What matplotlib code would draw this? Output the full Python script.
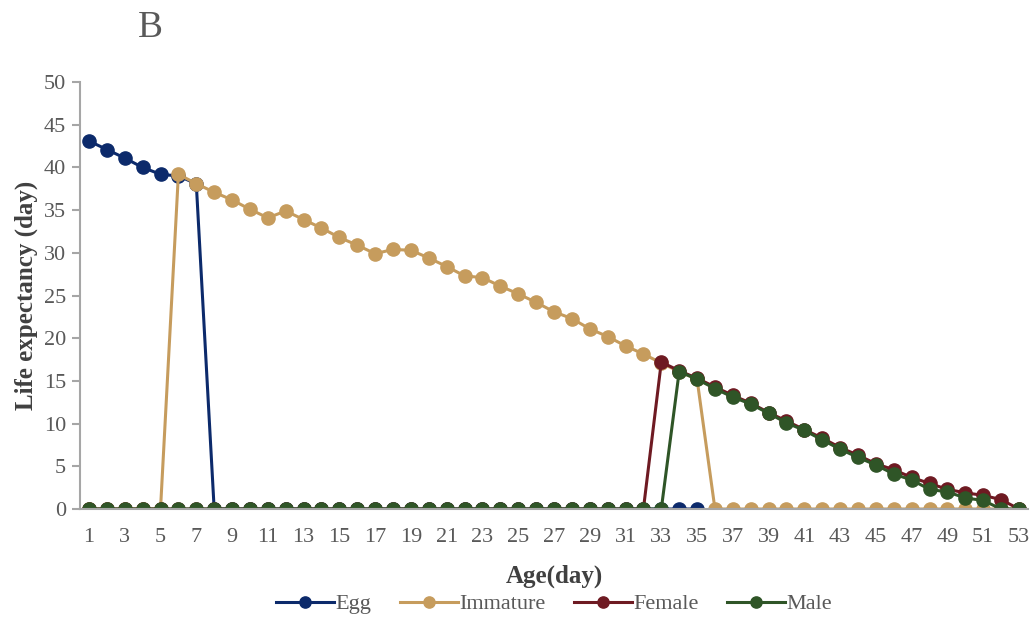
import numpy as np
import matplotlib.pyplot as plt

plt.rcParams['font.family'] = ['Liberation Serif', 'DejaVu Serif']

days = np.arange(1, 54)

# Egg: days 1-35
egg_days = np.arange(1, 36)
egg = [43.1, 42.1, 41.1, 40.0, 39.2, 39.0, 38.1] + [0] * 28

# Immature: days 1-53
imm_days = np.arange(1, 54)
immature = [0, 0, 0, 0, 0,
            39.2, 38.1, 37.1, 36.2, 35.1, 34.1, 34.9, 33.9, 32.9, 31.8,
            30.9, 29.9, 30.4, 30.3, 29.4, 28.4, 27.3, 27.1, 26.1, 25.2,
            24.2, 23.1, 22.3, 21.1, 20.2, 19.1, 18.15, 17.1, 16.1, 15.2] + [0] * 18

# Female: days 1-53
fem_days = np.arange(1, 54)
female = [0] * 32 + [17.2, 16.2, 15.3, 14.3, 13.3, 12.4, 11.3, 10.3, 9.3, 8.3,
                     7.2, 6.3, 5.3, 4.6, 3.7, 3.0, 2.3, 1.9, 1.6, 1.1, 0]

# Male: days 1-53
male_days = np.arange(1, 54)
male = [0] * 33 + [16.1, 15.2, 14.1, 13.1, 12.3, 11.2, 10.1, 9.2, 8.1, 7.0,
                   6.05, 5.15, 4.1, 3.4, 2.3, 2.0, 1.3, 1.0, 0, 0]

xtick_labels = [str(d) for d in range(1, 54, 2)]

fig = plt.figure(figsize=(10.3, 6.17), dpi=100)
ax = fig.add_axes([0.0777, 0.175, 0.9203, 0.692])

kw = dict(marker='o', markersize=9.5, linewidth=2.2)
ax.plot(egg_days, egg, color='#0c2a6b', label='Egg', **kw)
ax.plot(imm_days, immature, color='#c69c5d', label='Immature', **kw)
ax.plot(fem_days, female, color='#6e1a22', label='Female', **kw)
ax.plot(male_days, male, color='#2f5527', label='Male', **kw)

ax.set_xlim(0.5, 53.5)
ax.set_ylim(0, 50)
ax.set_yticks(range(0, 51, 5))
ax.set_xticks(range(1, 54, 2))
ax.set_xticklabels(xtick_labels)

for s in ['top', 'right']:
    ax.spines[s].set_visible(False)
for s in ['left', 'bottom']:
    ax.spines[s].set_color('#a6a6a6')
    ax.spines[s].set_linewidth(1.5)
ax.tick_params(axis='y', colors='#595959', labelsize=16, length=6, width=1.5, direction='out', pad=4)
ax.tick_params(axis='y', color='#a6a6a6')
ax.tick_params(axis='x', colors='#595959', labelsize=16, length=0, pad=14)

ax.set_xlabel('Age(day)', fontsize=18, fontweight='bold', color='#404040', labelpad=12)
ax.set_ylabel('Life expectancy (day)', fontsize=18, fontweight='bold', color='#404040', labelpad=4)

ax.legend(loc='upper center', bbox_to_anchor=(0.5, -0.152), ncol=4, frameon=False,
          fontsize=16, handlelength=2.6, handletextpad=0.05, columnspacing=1.3,
          markerscale=0.85, labelcolor='#595959')

fig.text(0.146, 0.955, 'B', fontsize=27, color='#595959', ha='center', va='center')

fig.savefig('out.png', dpi=100)
